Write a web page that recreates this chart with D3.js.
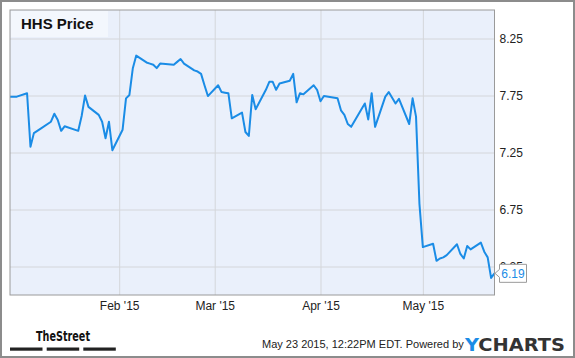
<!DOCTYPE html>
<html>
<head>
<meta charset="utf-8">
<script src="https://cdn.jsdelivr.net/npm/d3@7"></script>
<style>
  body { margin: 0; background: #fff; }
  svg { display: block; font-family: "Liberation Sans", Arial, sans-serif; }
  .axis path, .axis line { display: none; }
  .grid line { stroke: #d4d6da; stroke-width: 1; }
  .grid path { display: none; }
</style>
</head>
<body>
<div class="visHolder"></div>
<script>
var width = 575,
    height = 358;

// HHS closing prices
var dates = [
  "2014-12-31","2015-01-02","2015-01-05","2015-01-06","2015-01-07","2015-01-08","2015-01-09",
  "2015-01-12","2015-01-13","2015-01-14","2015-01-15","2015-01-16","2015-01-20","2015-01-21",
  "2015-01-22","2015-01-23","2015-01-26","2015-01-27","2015-01-28","2015-01-29","2015-01-30",
  "2015-02-02","2015-02-03","2015-02-04","2015-02-05","2015-02-06","2015-02-09","2015-02-10",
  "2015-02-11","2015-02-12","2015-02-13","2015-02-17","2015-02-18","2015-02-19","2015-02-20",
  "2015-02-23","2015-02-24","2015-02-25","2015-02-26","2015-02-27","2015-03-02","2015-03-03",
  "2015-03-04","2015-03-05","2015-03-06","2015-03-09","2015-03-10","2015-03-11","2015-03-12",
  "2015-03-13","2015-03-16","2015-03-17","2015-03-18","2015-03-19","2015-03-20","2015-03-23",
  "2015-03-24","2015-03-25","2015-03-26","2015-03-27","2015-03-30","2015-03-31","2015-04-01",
  "2015-04-02","2015-04-06","2015-04-07","2015-04-08","2015-04-09","2015-04-10","2015-04-13",
  "2015-04-14","2015-04-15","2015-04-16","2015-04-17","2015-04-20","2015-04-21","2015-04-22",
  "2015-04-23","2015-04-24","2015-04-27","2015-04-28","2015-04-29","2015-04-30","2015-05-01",
  "2015-05-04","2015-05-05","2015-05-06","2015-05-07","2015-05-08","2015-05-11","2015-05-12",
  "2015-05-13","2015-05-14","2015-05-15","2015-05-18","2015-05-19","2015-05-20","2015-05-21",
  "2015-05-22"
];
var prices = [
  7.74, 7.74, 7.77, 7.30, 7.42, 7.44, 7.46,
  7.52, 7.59, 7.535, 7.44, 7.48, 7.44, 7.57,
  7.75, 7.65, 7.58, 7.52, 7.375, 7.52, 7.27,
  7.45, 7.725, 7.755, 7.99, 8.10, 8.04, 8.03,
  8.02, 7.99, 8.03, 8.02, 8.045, 8.07, 8.03,
  7.97, 7.96, 7.94, 7.84, 7.745, 7.84, 7.78,
  7.775, 7.77, 7.55, 7.60, 7.43, 7.395, 7.755,
  7.63, 7.80, 7.87, 7.87, 7.80, 7.855, 7.88,
  7.94, 7.69, 7.77, 7.76, 7.84, 7.80, 7.70,
  7.745, 7.725, 7.62, 7.58, 7.50, 7.475, 7.63,
  7.68, 7.54, 7.77, 7.475, 7.74, 7.78, 7.73,
  7.68, 7.72, 7.50, 7.725, 7.565, 6.80, 6.42,
  6.45, 6.30, 6.32, 6.33, 6.35, 6.445, 6.36,
  6.32, 6.43, 6.40, 6.46, 6.38, 6.33, 6.15,
  6.19
];
var yTicks = [6.25, 6.75, 7.25, 7.75, 8.25];
var xTicks = ["2015-02-01", "2015-03-01", "2015-04-01", "2015-05-01"];

var parse = d3.utcParse("%Y-%m-%d");
var dataset = dates.map(function (d, i) { return [parse(d), prices[i]]; });

var plot = { left: 10, top: 10, right: 494.5, bottom: 295 };

var svg = d3.select('.visHolder')
  .append('svg')
  .attr('width', width)
  .attr('height', height);

// outer frame
svg.append('rect')
  .attr('x', 1).attr('y', 1)
  .attr('width', width - 2).attr('height', height - 2)
  .attr('fill', '#fff').attr('stroke', '#8c8c8c').attr('stroke-width', 2);

var xScale = d3.scaleUtc()
  .domain([parse("2014-12-31"), parse("2015-05-22")])
  .range([plot.left, plot.right]);

var yScale = d3.scaleLinear()
  .domain([6, 8.5])
  .range([plot.bottom, plot.top]);

// plot background
svg.append('rect')
  .attr('x', plot.left).attr('y', plot.top)
  .attr('width', plot.right - plot.left).attr('height', plot.bottom - plot.top)
  .attr('fill', '#eaf0fb');

// grid
svg.append('g')
  .attr('class', 'grid')
  .attr('transform', 'translate(0,' + plot.bottom + ')')
  .call(d3.axisBottom(xScale).tickValues(xTicks.map(parse)).tickSize(-(plot.bottom - plot.top)).tickFormat(''));
svg.append('g')
  .attr('class', 'grid')
  .attr('transform', 'translate(' + plot.left + ',0)')
  .call(d3.axisLeft(yScale).tickValues(yTicks).tickSize(-(plot.right - plot.left)).tickFormat(''));

// title box
svg.append('rect')
  .attr('x', 11).attr('y', 11).attr('width', 97).attr('height', 26)
  .attr('fill', '#f3f7fd');
svg.append('text')
  .attr('x', 21).attr('y', 29)
  .attr('font-size', 15).attr('font-weight', 'bold').attr('fill', '#111')
  .text('HHS Price');

// price line
var line = d3.line()
  .x(function (d) { return xScale(d[0]); })
  .y(function (d) { return yScale(d[1]); });

svg.append('path')
  .datum(dataset)
  .attr('d', line)
  .attr('fill', 'none')
  .attr('stroke', '#1a8ce6')
  .attr('stroke-width', 2)
  .attr('stroke-linejoin', 'round');

// plot border
svg.append('rect')
  .attr('x', plot.left).attr('y', plot.top)
  .attr('width', plot.right - plot.left).attr('height', plot.bottom - plot.top)
  .attr('fill', 'none').attr('stroke', '#9a9a9a').attr('stroke-width', 1);

// axes
var yAxis = svg.append('g')
  .attr('class', 'axis')
  .attr('transform', 'translate(' + plot.right + ',0)')
  .call(d3.axisRight(yScale).tickValues(yTicks).tickSize(0).tickPadding(5).tickFormat(d3.format('.2f')));
yAxis.selectAll('text').attr('font-size', 12).attr('fill', '#222').style('font-family', '"Liberation Sans", Arial, sans-serif');

var xAxis = svg.append('g')
  .attr('class', 'axis')
  .attr('transform', 'translate(0,' + plot.bottom + ')')
  .call(d3.axisBottom(xScale).tickValues(xTicks.map(parse)).tickSize(0).tickPadding(6).tickFormat(d3.utcFormat("%b '%y")));
xAxis.selectAll('text').attr('font-size', 12).attr('fill', '#222').style('font-family', '"Liberation Sans", Arial, sans-serif');

// last value flag
var last = dataset[dataset.length - 1];
var lx = xScale(last[0]), ly = yScale(last[1]);
var flag = svg.append('g');
flag.append('path')
  .attr('d', 'M' + (lx + 5) + ',' + (ly - 9) + ' H' + (lx + 32) + ' V' + (ly + 9) + ' H' + (lx + 5) +
    ' V' + (ly + 4) + ' L' + (lx + 0.5) + ',' + ly + ' L' + (lx + 5) + ',' + (ly - 4) + ' Z')
  .attr('fill', '#fff').attr('stroke', '#9a9a9a').attr('stroke-width', 1);
flag.append('text')
  .attr('x', lx + 18.5).attr('y', ly + 4.5)
  .attr('text-anchor', 'middle')
  .attr('font-size', 12).attr('fill', '#1a8ce6')
  .text(last[1].toFixed(2));

// footer
svg.append('text')
  .attr('x', 36).attr('y', 340.5)
  .attr('font-size', 14).attr('font-weight', 'bold')
  .style('font-family', '"Liberation Sans Narrow", "DejaVu Sans Condensed", sans-serif')
  .attr('textLength', 54).attr('lengthAdjust', 'spacingAndGlyphs')
  .attr('fill', '#111')
  .text('TheStreet');
[10, 46.7, 83.3].forEach(function (bx) {
  svg.append('rect')
    .attr('x', bx).attr('y', 347.5).attr('width', 32.5).attr('height', 3.2)
    .attr('fill', '#222');
});

svg.append('text')
  .attr('x', 262).attr('y', 348)
  .attr('font-size', 11).attr('fill', '#222')
  .text('May 23 2015, 12:22PM EDT.  Powered by');

var logo = svg.append('text')
  .attr('x', 465).attr('y', 350.5)
  .attr('font-size', 18).attr('font-weight', 'bold')
  .style('font-family', '"DejaVu Sans", sans-serif')
  .attr('textLength', 100).attr('lengthAdjust', 'spacingAndGlyphs');
logo.append('tspan').attr('fill', '#1a8ce6').text('Y');
logo.append('tspan').attr('fill', '#333').text('CHARTS');
</script>
</body>
</html>
